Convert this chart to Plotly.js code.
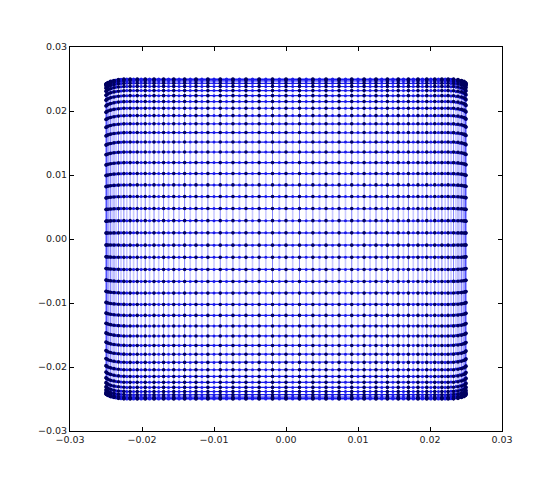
<!DOCTYPE html>
<html>
<head>
<meta charset="utf-8">
<script src="https://cdn.plot.ly/plotly-3.0.1.min.js"></script>
<style>html,body{margin:0;padding:0;background:#fff;}#chart{width:559px;height:480px;}</style>
</head>
<body>
<div id="chart"></div>
<script>
// Column x positions, set A (darker, thinner vertical lines, dark dots)
var colXA = [-0.02500,-0.02493,-0.02472,-0.02437,-0.02389,-0.02327,-0.02252,-0.02165,-0.02066,-0.01955,-0.01833,
  -0.01700,-0.01559,-0.01408,-0.01250,-0.01085,-0.00913,-0.00737,-0.00556,-0.00373,-0.00187,0.0,
  0.00187,0.00373,0.00556,0.00737,0.00913,0.01085,0.01250,0.01408,0.01559,0.01700,
  0.01833,0.01955,0.02066,0.02165,0.02252,0.02327,0.02389,0.02437,0.02472,0.02493,0.02500];
// Column x positions, set B (lighter vertical lines, blue dots, interleaved)
var colXB = [-0.02498,-0.02484,-0.02456,-0.02415,-0.02360,-0.02292,-0.02211,-0.02117,-0.02011,-0.01895,-0.01768,
  -0.01631,-0.01485,-0.01330,-0.01168,-0.01000,-0.00826,-0.00647,-0.00465,-0.00280,-0.00093,
  0.00093,0.00280,0.00465,0.00647,0.00826,0.01000,0.01168,0.01330,0.01485,0.01631,
  0.01768,0.01895,0.02011,0.02117,0.02211,0.02292,0.02360,0.02415,0.02456,0.02484,0.02498];
// Row y positions at the centre (top to bottom)
var rowY = [0.02500,0.02493,0.02471,0.02434,0.02384,0.02319,0.02240,0.02148,0.02044,0.01928,0.01801,
  0.01663,0.01516,0.01359,0.01194,0.01023,0.00845,0.00663,0.00476,0.00287,0.00096,
  -0.00096,-0.00287,-0.00476,-0.00663,-0.00845,-0.01023,-0.01194,-0.01359,-0.01516,-0.01663,
  -0.01801,-0.01928,-0.02044,-0.02148,-0.02240,-0.02319,-0.02384,-0.02434,-0.02471,-0.02493,-0.02500];
// Vertical squeeze of rows near the left/right edges (per column)
var colYScaleA = [0.968,0.972,0.978,0.985,0.991,0.996,0.999,
  1,1,1,1,1,1,1,1,1,1,1,1,1,1,1,1,1,1,1,1,1,1,1,1,1,1,1,1,1,1,
  0.999,0.996,0.991,0.985,0.978,0.972,0.968];
var colYScaleB = [0.969,0.975,0.982,0.988,0.994,0.998,
  1,1,1,1,1,1,1,1,1,1,1,1,1,1,1,1,1,1,1,1,1,1,1,1,1,1,1,1,1,1,
  0.998,0.994,0.988,0.982,0.975,0.969];
var xTicks = [-0.03,-0.02,-0.01,0.00,0.01,0.02,0.03];
var yTicks = [-0.03,-0.02,-0.01,0.00,0.01,0.02,0.03];

// merge both column sets (sorted by x) for the row polylines
var cols = [];
colXA.forEach(function (x, i) { cols.push([x, colYScaleA[i]]); });
colXB.forEach(function (x, i) { cols.push([x, colYScaleB[i]]); });
cols.sort(function (a, b) { return a[0] - b[0]; });

var rx = [], ry = [];
for (var j = 0; j < rowY.length; j++) {
  for (var i = 0; i < cols.length; i++) { rx.push(cols[i][0]); ry.push(rowY[j] * cols[i][1]); }
  rx.push(null); ry.push(null);
}
function columnLines(xs, sc) {
  var cx = [], cy = [];
  for (var i = 0; i < xs.length; i++) {
    for (var j = 0; j < rowY.length; j++) { cx.push(xs[i]); cy.push(rowY[j] * sc[i]); }
    cx.push(null); cy.push(null);
  }
  return {x: cx, y: cy};
}
function dots(xs, sc) {
  var dx = [], dy = [];
  for (var i = 0; i < xs.length; i++) {
    for (var j = 0; j < rowY.length; j++) { dx.push(xs[i]); dy.push(rowY[j] * sc[i]); }
  }
  return {x: dx, y: dy};
}
var cA = columnLines(colXA, colYScaleA), cB = columnLines(colXB, colYScaleB);
var dA = dots(colXA, colYScaleA), dB = dots(colXB, colYScaleB);

var traces = [
  {x: cB.x, y: cB.y, mode: 'lines', type: 'scatter', line: {color: 'rgba(70,70,255,0.28)', width: 1.6}, hoverinfo: 'skip'},
  {x: cA.x, y: cA.y, mode: 'lines', type: 'scatter', line: {color: 'rgba(30,30,255,0.55)', width: 1}, hoverinfo: 'skip'},
  {x: rx, y: ry, mode: 'lines', type: 'scatter', line: {color: 'rgb(25,25,245)', width: 1.2}, hoverinfo: 'skip'},
  {x: dB.x, y: dB.y, mode: 'markers', type: 'scatter', marker: {size: 3, color: '#1a1ae6', line: {width: 0}}, hoverinfo: 'skip'},
  {x: dA.x, y: dA.y, mode: 'markers', type: 'scatter', marker: {size: 3.6, color: '#000060', line: {width: 0}}, hoverinfo: 'skip'}
];

var axisCommon = {
  range: [-0.03, 0.03], showgrid: false, zeroline: false, showline: true, linecolor: '#000', linewidth: 1,
  mirror: 'ticks', ticks: 'inside', ticklen: 4, tickwidth: 1, tickcolor: '#000',
  tickformat: '.2f', tickfont: {family: 'DejaVu Sans', size: 9.5, color: '#222'}
};
var layout = {
  width: 559, height: 480, showlegend: false,
  paper_bgcolor: '#fff', plot_bgcolor: '#fff',
  margin: {l: 70, r: 57, t: 47, b: 49},
  xaxis: Object.assign({}, axisCommon, {tickvals: xTicks}),
  yaxis: Object.assign({}, axisCommon, {tickvals: yTicks})
};
Plotly.newPlot('chart', traces, layout, {staticPlot: true, displayModeBar: false});
</script>
</body>
</html>
